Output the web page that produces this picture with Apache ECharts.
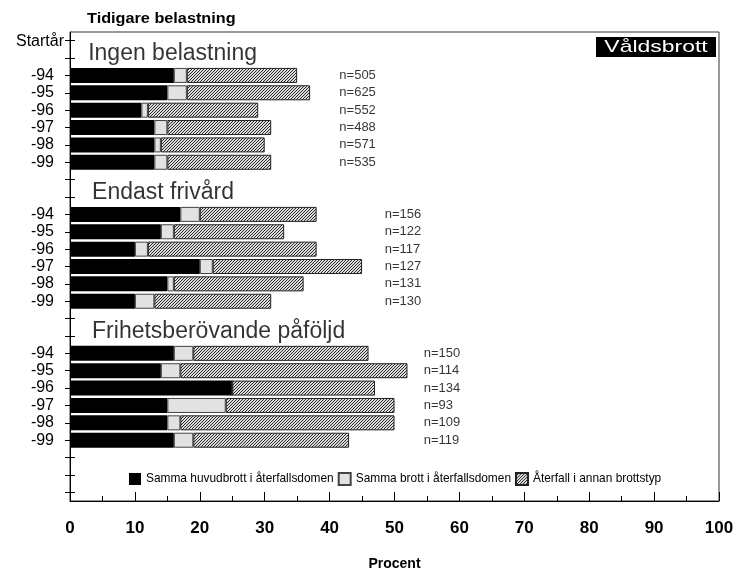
<!DOCTYPE html>
<html>
<head>
<meta charset="utf-8">
<script src="https://cdn.jsdelivr.net/npm/echarts@6/dist/echarts.min.js"></script>
<style>html,body{margin:0;padding:0;background:#fff}#c{width:736px;height:568px}</style>
</head>
<body>
<div id="c"></div>
<script>
// ---- data ----
const yearLabels = ['-94', '-95', '-96', '-97', '-98', '-99'];
const headings = ['Ingen belastning', 'Endast frivård', 'Frihetsberövande påföljd'];
const legendNames = ['Samma huvudbrott i återfallsdomen', 'Samma brott i återfallsdomen', 'Återfall i annan brottstyp'];
const xTicks = [0, 10, 20, 30, 40, 50, 60, 70, 80, 90, 100];

const huvudIngen = [16, 15, 11, 13, 13, 13];
const brottIngen = [2, 3, 1, 2, 1, 2];
const annanIngen = [17, 19, 17, 16, 16, 16];
const nIngen = [505, 625, 552, 488, 571, 535];

const huvudFrivard = [17, 14, 10, 20, 15, 10];
const brottFrivard = [3, 2, 2, 2, 1, 3];
const annanFrivard = [18, 17, 26, 23, 20, 18];
const nFrivard = [156, 122, 117, 127, 131, 130];

const huvudFrihet = [16, 14, 25, 15, 15, 16];
const brottFrihet = [3, 3, 0, 9, 2, 3];
const annanFrihet = [27, 35, 22, 26, 33, 24];
const nFrihet = [150, 114, 134, 93, 109, 119];

// ---- layout (category slots) ----
const nSlots = 27;
const headingIdx = [1, 9, 17];
const nLabelX = [41.5, 48.5, 54.5];
const headingX = [2.8, 3.4, 3.4];

const groupsHuvud = [huvudIngen, huvudFrivard, huvudFrihet];
const groupsBrott = [brottIngen, brottFrivard, brottFrihet];
const groupsAnnan = [annanIngen, annanFrivard, annanFrihet];
const groupsN = [nIngen, nFrivard, nFrihet];

const categories = new Array(nSlots).fill('');
const dHuvud = new Array(nSlots).fill('-');
const dBrott = new Array(nSlots).fill('-');
const dAnnan = new Array(nSlots).fill('-');
const nData = [];
const headData = [];
headingIdx.forEach((h, g) => {
  headData.push([headingX[g], h, headings[g]]);
  yearLabels.forEach((yl, i) => {
    const idx = h + 1 + i;
    categories[idx] = yl;
    dHuvud[idx] = groupsHuvud[g][i];
    dBrott[idx] = groupsBrott[g][i];
    dAnnan[idx] = groupsAnnan[g][i];
    nData.push([nLabelX[g], idx, groupsN[g][i]]);
  });
});

function hatch() {
  const c = document.createElement('canvas');
  c.width = 3; c.height = 3;
  const x = c.getContext('2d');
  x.fillStyle = '#dcdcdc'; x.fillRect(0, 0, 3, 3);
  x.strokeStyle = '#2a2a2a'; x.lineWidth = 1;
  x.beginPath();
  x.moveTo(0, 3); x.lineTo(3, 0);
  x.moveTo(-1, 1); x.lineTo(1, -1);
  x.moveTo(2, 4); x.lineTo(4, 2);
  x.stroke();
  return c;
}

const FONT = 'Liberation Sans, Arial, Helvetica, sans-serif';
const chart = echarts.init(document.getElementById('c'), null, {renderer: 'canvas'});
chart.setOption({
  animation: false,
  textStyle: {fontFamily: FONT, color: '#000'},
  grid: {left: 70, right: 17, top: 32, bottom: 67, containLabel: false, outerBoundsMode: 'none',
    show: true, borderColor: '#333', borderWidth: 1},
  legend: {
    data: legendNames, left: 124, top: 467, itemWidth: 12, itemHeight: 12, itemGap: 4,
    icon: 'rect', textStyle: {fontSize: 11.9, color: '#000', fontFamily: FONT}
  },
  xAxis: {
    type: 'value', min: 0, max: 100, interval: 10,
    name: 'Procent', nameLocation: 'middle', nameGap: 56,
    nameTextStyle: {fontSize: 14, fontWeight: 'bold', color: '#000', fontFamily: FONT},
    axisLine: {show: true, lineStyle: {color: '#000', width: 1}},
    axisTick: {show: true, inside: true, length: 9, lineStyle: {color: '#000'}},
    minorTick: {show: true, splitNumber: 2, length: 5, lineStyle: {color: '#000'}},
    splitLine: {show: false},
    axisLabel: {fontSize: 17, fontWeight: 'bold', color: '#000', margin: 19, fontFamily: FONT,
      formatter: v => xTicks.indexOf(v) >= 0 ? String(v) : ''}
  },
  yAxis: [{
    type: 'category', inverse: true, data: categories, boundaryGap: true,
    axisLine: {show: true, lineStyle: {color: '#000', width: 1}},
    axisTick: {show: true, alignWithLabel: true, interval: 0, length: 5, lineStyle: {color: '#000'}},
    axisLabel: {interval: 0, fontSize: 16, color: '#000', margin: 16, fontFamily: FONT}
  }, {
    type: 'category', inverse: true, data: categories, boundaryGap: true, position: 'left', offset: 0,
    axisLine: {show: false},
    axisTick: {show: true, inside: true, alignWithLabel: true, interval: 0, length: 5, lineStyle: {color: '#000'}},
    axisLabel: {show: false}
  }],
  series: [
    {name: legendNames[0], type: 'bar', stack: 's', barWidth: 15, data: dHuvud,
      itemStyle: {color: '#000'}},
    {name: legendNames[1], type: 'bar', stack: 's', barWidth: 15, data: dBrott,
      itemStyle: {color: '#e2e2e2', borderColor: '#444', borderWidth: 1}},
    {name: legendNames[2], type: 'bar', stack: 's', barWidth: 15, data: dAnnan,
      itemStyle: {color: {image: hatch(), repeat: 'repeat'}, borderColor: '#222', borderWidth: 1}},
    {name: 'n', type: 'scatter', symbolSize: 0, data: nData, silent: true,
      label: {show: true, position: 'right', distance: 0, fontSize: 13, color: '#000', fontFamily: FONT,
        formatter: p => 'n=' + p.data[2]}},
    {name: 'rubrik', type: 'scatter', symbolSize: 0, data: headData, silent: true,
      label: {show: true, position: 'right', distance: 0, fontSize: 23, color: '#000', fontFamily: FONT,
        offset: [0, -4], formatter: p => p.data[2]}}
  ],
  graphic: [
    {type: 'text', x: 87, y: 19, scaleX: 1.16,
      style: {text: 'Tidigare belastning', font: 'bold 14px ' + FONT, fill: '#000', textAlign: 'left', textVerticalAlign: 'middle'}},
    {type: 'text', x: 64, y: 42,
      style: {text: 'Startår', font: '16px ' + FONT, fill: '#000', textAlign: 'right', textVerticalAlign: 'middle'}},
    {type: 'rect', shape: {x: 596, y: 37, width: 120, height: 20}, style: {fill: '#000'}},
    {type: 'text', x: 656, y: 47.5, scaleX: 1.35,
      style: {text: 'Våldsbrott', font: '17px ' + FONT, fill: '#fff', textAlign: 'center', textVerticalAlign: 'middle'}}
  ]
});
</script>
</body>
</html>
